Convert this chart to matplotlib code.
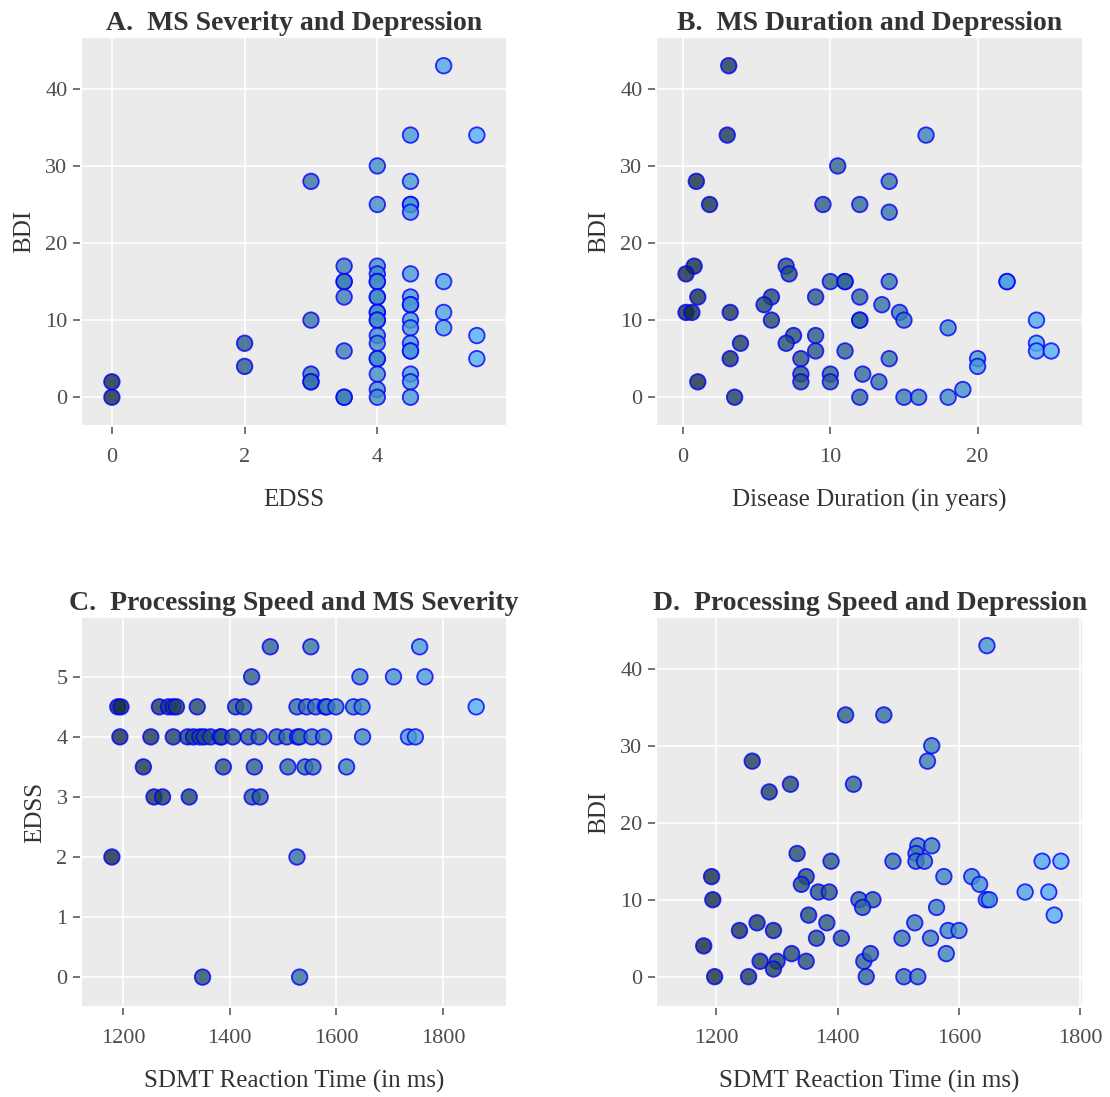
import matplotlib
matplotlib.use('Agg')
import matplotlib.pyplot as plt
from matplotlib.colors import LinearSegmentedColormap

plt.rcParams['font.family'] = ['Liberation Serif', 'DejaVu Serif']

# A. EDSS vs BDI
edss_a = [0, 0, 2, 2, 3, 3, 3, 3, 3,
          3.5, 3.5, 3.5, 3.5, 3.5, 3.5, 3.5,
          4, 4, 4, 4, 4, 4, 4, 4, 4, 4, 4, 4, 4, 4, 4, 4, 4, 4, 4,
          4.5, 4.5, 4.5, 4.5, 4.5, 4.5, 4.5, 4.5, 4.5, 4.5, 4.5, 4.5, 4.5, 4.5, 4.5, 4.5, 4.5,
          5, 5, 5, 5, 5.5, 5.5, 5.5]
bdi_a = [0, 2, 7, 4, 28, 10, 3, 2, 2,
         17, 15, 15, 13, 6, 0, 0,
         30, 25, 17, 16, 15, 15, 13, 13, 11, 11, 10, 10, 8, 7, 5, 5, 3, 1, 0,
         34, 28, 25, 25, 24, 16, 13, 12, 12, 10, 9, 7, 6, 6, 3, 2, 0,
         43, 15, 11, 9, 34, 8, 5]

# B. Disease duration vs BDI
dur_b = [3.1, 3.0, 0.9, 1.8, 10.5, 14.0, 9.5, 12.0, 14.0, 16.5,
         0.75, 0.2, 7.0, 7.2, 10.0, 11.0, 11.0, 14.0, 22.0, 22.0,
         1.0, 6.0, 9.0, 12.0, 5.5, 13.5, 0.2, 0.6, 3.2, 14.7,
         15.0, 6.0, 12.0, 12.0, 24.0, 18.0, 7.5, 9.0, 3.9, 7.0,
         24.0, 9.0, 11.0, 24.0, 25.0, 3.2, 8.0, 14.0, 20.0, 20.0,
         8.0, 10.0, 12.2, 1.0, 8.0, 10.0, 13.3, 19.0, 3.5, 12.0,
         15.0, 16.0, 18.0]
bdi_b = [43, 34, 28, 25, 30, 28, 25, 25, 24, 34,
         17, 16, 17, 16, 15, 15, 15, 15, 15, 15,
         13, 13, 13, 13, 12, 12, 11, 11, 11, 11,
         10, 10, 10, 10, 10, 9, 8, 8, 7, 7,
         7, 6, 6, 6, 6, 5, 5, 5, 5, 4,
         3, 3, 3, 2, 2, 2, 2, 1, 0, 0,
         0, 0, 0]

# C. SDMT reaction time vs EDSS
sdmt_c = [1476, 1552, 1756,
          1441, 1644, 1707, 1766,
          1190, 1196, 1268, 1285, 1294, 1300, 1339, 1411, 1426, 1526, 1544,
          1561, 1579, 1582, 1599, 1632, 1648, 1862,
          1194, 1252, 1294, 1321, 1332, 1344, 1352, 1364, 1382, 1385, 1406,
          1435, 1455, 1488, 1507, 1527, 1531, 1554, 1576, 1649, 1735, 1748,
          1238, 1388, 1446, 1509, 1541, 1556, 1619,
          1258, 1274, 1324, 1442, 1457,
          1179, 1526,
          1349, 1531]
edss_c = [5.5, 5.5, 5.5,
          5, 5, 5, 5,
          4.5, 4.5, 4.5, 4.5, 4.5, 4.5, 4.5, 4.5, 4.5, 4.5, 4.5,
          4.5, 4.5, 4.5, 4.5, 4.5, 4.5, 4.5,
          4, 4, 4, 4, 4, 4, 4, 4, 4, 4, 4,
          4, 4, 4, 4, 4, 4, 4, 4, 4, 4, 4,
          3.5, 3.5, 3.5, 3.5, 3.5, 3.5, 3.5,
          3, 3, 3, 3, 3,
          2, 2,
          0, 0]

# D. SDMT reaction time vs BDI
sdmt_d = [1646, 1413, 1476, 1555, 1548, 1259, 1322, 1287, 1426,
          1333, 1389, 1491, 1532, 1529, 1529, 1543, 1555, 1737, 1768,
          1192, 1348, 1340, 1575, 1621, 1634, 1368, 1386, 1709, 1748,
          1194, 1435, 1458, 1441, 1563, 1645, 1650, 1352, 1757,
          1267, 1382, 1527, 1238, 1294, 1582, 1600, 1179, 1365, 1406,
          1506, 1553, 1272, 1300, 1294, 1324, 1348, 1443, 1454, 1579,
          1197, 1253, 1447, 1509, 1532]
bdi_d = [43, 34, 34, 30, 28, 28, 25, 24, 25,
         16, 15, 15, 17, 16, 15, 15, 17, 15, 15,
         13, 13, 12, 13, 13, 12, 11, 11, 11, 11,
         10, 10, 10, 9, 9, 10, 10, 8, 8,
         7, 7, 7, 6, 6, 6, 6, 4, 5, 5,
         5, 5, 2, 2, 1, 3, 2, 2, 3, 3,
         0, 0, 0, 0, 0]

cmap = LinearSegmentedColormap.from_list('gg', ['#132B43', '#56B1F7'])

fig = plt.figure(figsize=(11.1, 10.97), dpi=100)

panels = [
    (edss_a, bdi_a, 'A.  MS Severity and Depression', 'EDSS', 'BDI',
     [0.0739, 0.6126, 0.382, 0.3528], (-0.45, 5.94), (-3.6, 46.6), [0, 2, 4], [0, 10, 20, 30, 40]),
    (dur_b, bdi_b, 'B.  MS Duration and Depression', 'Disease Duration (in years)', 'BDI',
     [0.5919, 0.6126, 0.383, 0.3528], (-1.77, 27.1), (-3.6, 46.6), [0, 10, 20], [0, 10, 20, 30, 40]),
    (sdmt_c, edss_c, 'C.  Processing Speed and MS Severity', 'SDMT Reaction Time (in ms)', 'EDSS',
     [0.0739, 0.083, 0.382, 0.3537], (1123, 1918), (-0.48, 5.98), [1200, 1400, 1600, 1800], [0, 1, 2, 3, 4, 5]),
    (sdmt_d, bdi_d, 'D.  Processing Speed and Depression', 'SDMT Reaction Time (in ms)', 'BDI',
     [0.5919, 0.083, 0.383, 0.3537], (1102, 1803), (-3.8, 46.6), [1200, 1400, 1600, 1800], [0, 10, 20, 30, 40]),
]

for x, y, title, xlab, ylab, rect, xl, yl, xt, yt in panels:
    ax = fig.add_axes(rect)
    ax.set_facecolor('#EBEBEB')
    ax.scatter(x, y, c=x, cmap=cmap, s=125, alpha=0.8, edgecolors='blue',
               linewidths=1.3, zorder=3)
    ax.set_xlim(xl)
    ax.set_ylim(yl)
    ax.set_xticks(xt)
    ax.set_yticks(yt)
    ax.grid(True, color='white', linewidth=1.2, zorder=0)
    ax.set_axisbelow(True)
    # ticks sit a little apart from the panel, like ggplot
    for side in ['bottom', 'left']:
        ax.spines[side].set_position(('outward', 1.5))
    for sp in ax.spines.values():
        sp.set_visible(False)
    ax.tick_params(colors='#4D4D4D', labelsize=16, length=5, width=1.1)
    ax.tick_params(axis='x', pad=10)
    ax.tick_params(axis='y', pad=4)
    ax.set_title(title, fontsize=20, fontweight='bold', color='#333333', pad=6)
    ax.set_xlabel(xlab, fontsize=18, color='#333333', labelpad=16)
    ax.set_ylabel(ylab, fontsize=18, color='#333333', labelpad=7)

fig.savefig('out.png', dpi=100)
